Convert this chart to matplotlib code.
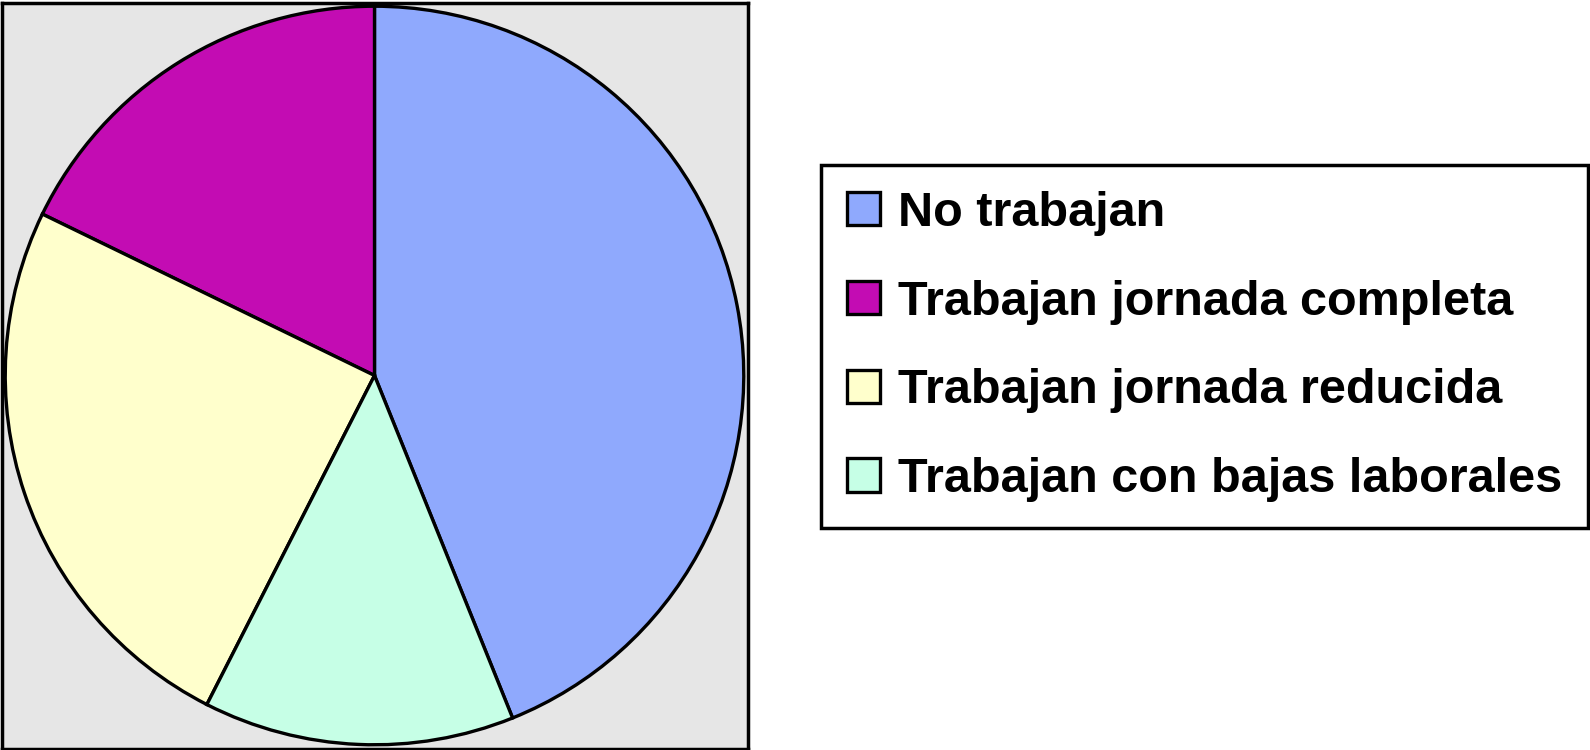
import matplotlib
matplotlib.use("Agg")
import matplotlib.pyplot as plt

labels = ["No trabajan", "Trabajan jornada completa",
          "Trabajan jornada reducida", "Trabajan con bajas laborales"]
values = [43.9, 17.8, 24.7, 13.6]
colors = ["#8fa9fd", "#c30cb3", "#ffffcc", "#c6ffe6"]

W, H = 1590, 750
fig = plt.figure(figsize=(W / 100, H / 100), dpi=100)
fig.patch.set_facecolor("white")

# gray box round the pie
ax = fig.add_axes([1.5 / W, 1.5 / H, 746 / W, 746 / H])
ax.set_facecolor("#e6e6e6")
for s in ax.spines.values():
    s.set_linewidth(2.5)
    s.set_color("black")
ax.set_xticks([])
ax.set_yticks([])

# blue slice ends at 12 o'clock, the rest follow counter-clockwise
start = 90 - values[0] / sum(values) * 360
wedges, _ = ax.pie(values, colors=colors, startangle=start, counterclock=True,
                   radius=0.99, center=(0, 0),
                   wedgeprops=dict(edgecolor="black", linewidth=2.4))
ax.set_xlim(-1, 1)
ax.set_ylim(-1, 1)
ax.set_aspect("auto")
ax.set_frame_on(True)

leg = fig.legend(wedges, labels, loc="upper left",
                 bbox_to_anchor=(821 / W, 1 - 165 / H),
                 prop=dict(family="Liberation Sans", weight="bold", size=35),
                 fancybox=False, framealpha=1, edgecolor="black",
                 borderaxespad=0, borderpad=0.53, labelspacing=0.9,
                 handlelength=0.68, handleheight=0.68, handletextpad=0.38)
leg.get_frame().set_linewidth(2.5)

fig.savefig("out.png", dpi=100)
